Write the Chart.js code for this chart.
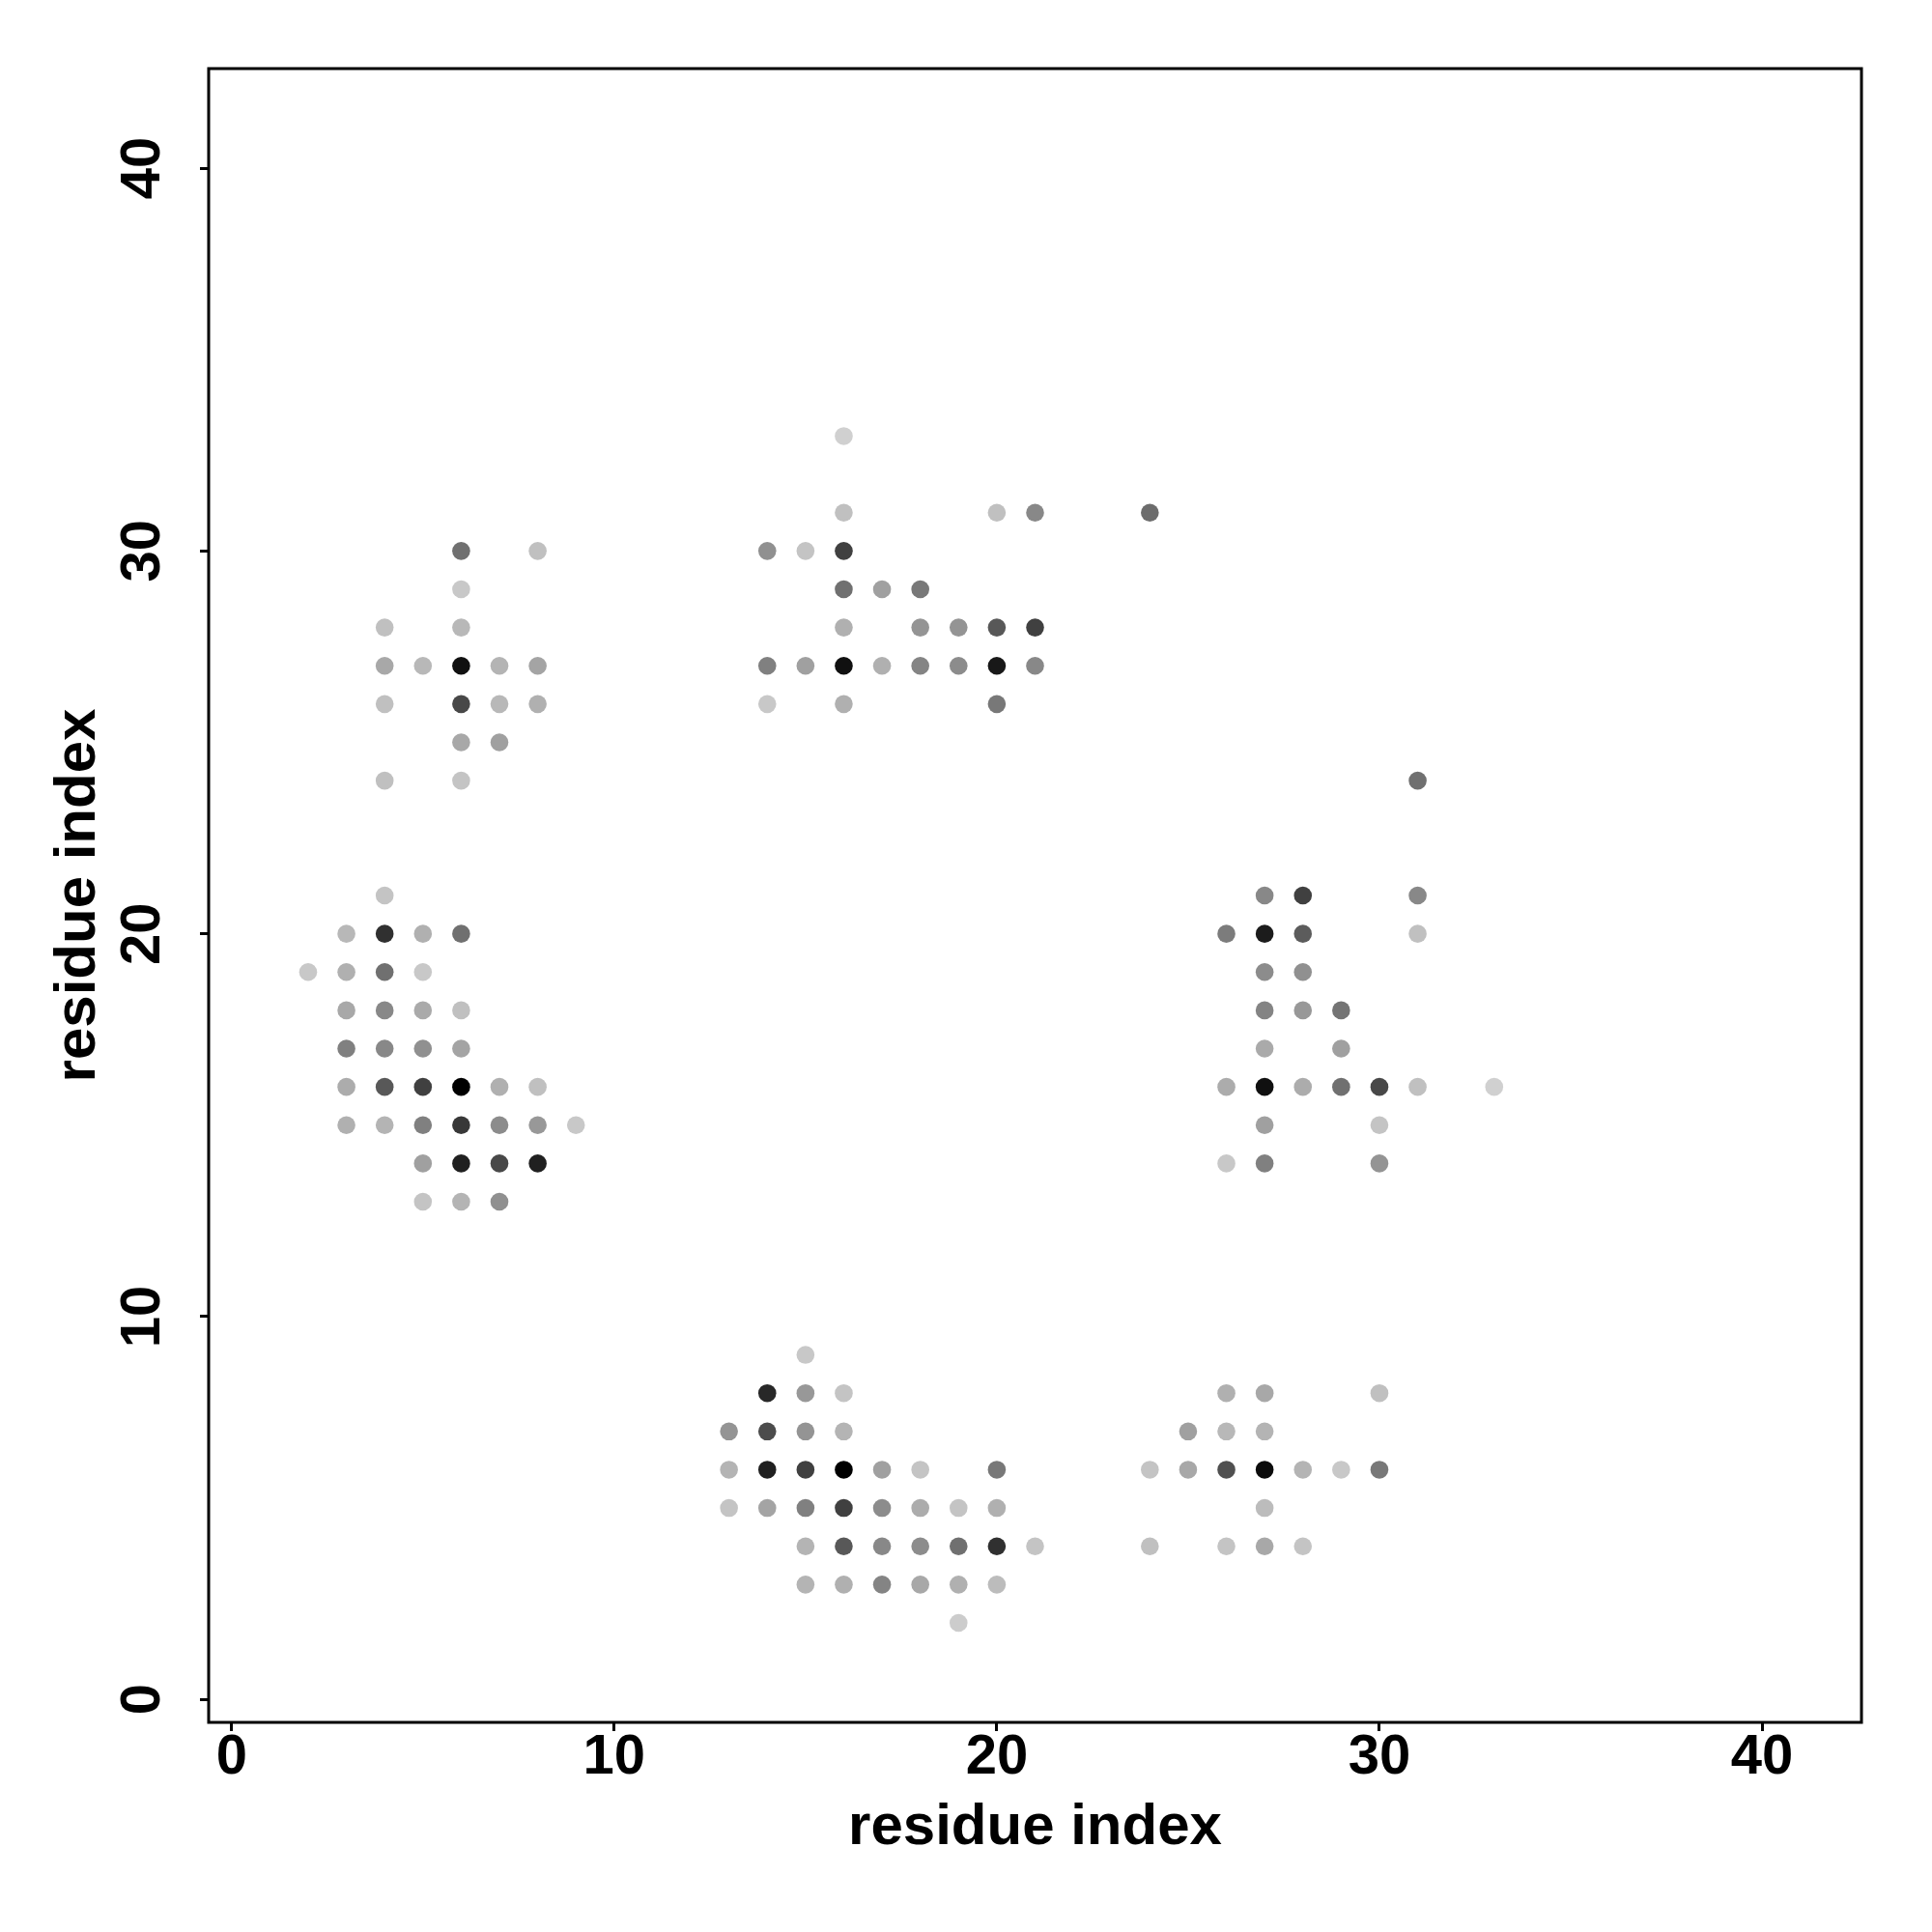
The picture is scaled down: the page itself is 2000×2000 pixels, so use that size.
<!DOCTYPE html>
<html>
<head>
<meta charset="utf-8">
<script src="https://cdn.jsdelivr.net/npm/chart.js@4"></script>
<style>
  body { margin: 0; background: #fff; }
  #wrap { width: 2000px; height: 2000px; }
</style>
</head>
<body>
<div id="wrap"><canvas id="contactMap" width="2000" height="2000"></canvas></div>
<script>
// residue pairs, grouped roughly by cluster
const xs = [
  6, 8, 6, 4, 6, 4, 5, 6, 7, 8, 4, 6, 7, 8, 6, 7, 4, 6,
  4, 3, 4, 5, 6, 2, 3, 4, 5, 3, 4, 5, 6, 3, 4, 5, 6, 3, 4, 5, 6, 7, 8, 3, 4, 5, 6, 7, 8, 9, 5, 6, 7, 8, 5, 6, 7,
  16, 16, 20, 21, 24, 14, 15, 16, 16, 17, 18, 16, 18, 19, 20, 21, 14, 15, 16, 17, 18, 19, 20, 21, 14, 16, 20,
  31, 27, 28, 31, 26, 27, 28, 31, 27, 28, 27, 28, 29, 27, 29, 26, 27, 28, 29, 30, 31, 33, 27, 30, 26, 27, 30,
  15, 14, 15, 16, 13, 14, 15, 16, 13, 14, 15, 16, 17, 18, 20, 13, 14, 15, 16, 17, 18, 19, 20, 15, 16, 17, 18, 19, 20, 21, 15, 16, 17, 18, 19, 20, 19,
  26, 27, 30, 25, 26, 27, 24, 25, 26, 27, 28, 29, 30, 27, 24, 26, 27, 28
];
const ys = [
  30, 30, 29, 28, 28, 27, 27, 27, 27, 27, 26, 26, 26, 26, 25, 25, 24, 24,
  21, 20, 20, 20, 20, 19, 19, 19, 19, 18, 18, 18, 18, 17, 17, 17, 17, 16, 16, 16, 16, 16, 16, 15, 15, 15, 15, 15, 15, 15, 14, 14, 14, 14, 13, 13, 13,
  33, 31, 31, 31, 31, 30, 30, 30, 29, 29, 29, 28, 28, 28, 28, 28, 27, 27, 27, 27, 27, 27, 27, 27, 26, 26, 26,
  24, 21, 21, 21, 20, 20, 20, 20, 19, 19, 18, 18, 18, 17, 17, 16, 16, 16, 16, 16, 16, 16, 15, 15, 14, 14, 14,
  9, 8, 8, 8, 7, 7, 7, 7, 6, 6, 6, 6, 6, 6, 6, 5, 5, 5, 5, 5, 5, 5, 5, 4, 4, 4, 4, 4, 4, 4, 3, 3, 3, 3, 3, 3, 2,
  8, 8, 8, 7, 7, 7, 6, 6, 6, 6, 6, 6, 6, 5, 4, 4, 4, 4
];
// grey level of each point (0 = black, 255 = white)
const shade = [
  112, 192, 200, 192, 184, 168, 184, 16, 180, 164, 192, 72, 184, 176, 168, 160, 192, 196,
  196, 184, 48, 176, 112, 200, 176, 112, 200, 168, 136, 170, 192, 128, 136, 144, 164, 172, 88, 64, 0, 176, 192, 176, 180, 128, 56, 140, 152, 200, 160, 32, 72, 32, 196, 180, 144,
  208, 192, 192, 136, 108, 144, 196, 64, 112, 160, 120, 176, 148, 148, 88, 64, 128, 160, 16, 176, 132, 140, 24, 136, 200, 176, 120,
  112, 136, 64, 136, 124, 28, 92, 192, 140, 144, 132, 152, 116, 170, 160, 172, 16, 172, 112, 72, 192, 208, 160, 196, 200, 128, 148,
  200, 40, 152, 196, 148, 76, 148, 180, 180, 32, 64, 0, 160, 196, 120, 196, 164, 128, 64, 140, 172, 196, 176, 180, 88, 136, 140, 112, 48, 196, 180, 176, 132, 168, 176, 188, 204,
  176, 168, 192, 160, 184, 180, 196, 168, 80, 12, 180, 200, 120, 188, 192, 196, 168, 196
];
const tickVals = [0, 10, 20, 30, 40];
const axisTitle = "residue index";

const points = xs.map((x, i) => ({ x: x, y: ys[i] }));
const colors = shade.map(g => `rgb(${g},${g},${g})`);

const boxPlugin = {
  id: 'box',
  afterDraw(chart) {
    const a = chart.chartArea;
    const ctx = chart.ctx;
    ctx.save();
    ctx.strokeStyle = '#000';
    ctx.lineWidth = 3;
    ctx.strokeRect(a.left, a.top, a.right - a.left, a.bottom - a.top);
    ctx.restore();
  }
};

const tickFont = { family: '"Liberation Sans", Arial, sans-serif', weight: 'bold', size: 58 };
const titleFont = { family: '"Liberation Sans", Arial, sans-serif', weight: 'bold', size: 60 };

function setTicks(scale) {
  scale.ticks = tickVals.map(v => ({ value: v }));
}

new Chart(document.getElementById('contactMap').getContext('2d'), {
  type: 'scatter',
  data: {
    datasets: [{
      data: points,
      pointBackgroundColor: colors,
      pointBorderWidth: 0,
      pointRadius: 9.3,
      pointHoverRadius: 9.3
    }]
  },
  options: {
    responsive: false,
    animation: false,
    events: [],
    layout: { padding: { top: 71, right: 73, left: 0, bottom: 0 } },
    plugins: { legend: { display: false }, tooltip: { enabled: false } },
    scales: {
      x: {
        type: 'linear',
        min: -0.6,
        max: 42.6,
        afterBuildTicks: setTicks,
        afterFit: s => { s.height = 217; },
        border: { display: false },
        grid: { drawOnChartArea: false, drawTicks: true, tickLength: 9, color: '#000', lineWidth: 3 },
        ticks: { color: '#000', font: tickFont, padding: -7, maxRotation: 0 },
        title: { display: true, text: axisTitle, color: '#000', font: titleFont, padding: { top: 0, bottom: 72 } }
      },
      y: {
        type: 'linear',
        min: -0.6,
        max: 42.6,
        afterBuildTicks: setTicks,
        afterFit: s => { s.width = 216; },
        border: { display: false },
        grid: { drawOnChartArea: false, drawTicks: true, tickLength: 9, color: '#000', lineWidth: 3 },
        ticks: { color: '#000', font: tickFont, padding: 26, minRotation: 90, maxRotation: 90, crossAlign: 'center' },
        title: { display: true, text: axisTitle, color: '#000', font: titleFont, padding: { top: 45, bottom: 0 } }
      }
    }
  },
  plugins: [boxPlugin]
});
</script>
</body>
</html>
